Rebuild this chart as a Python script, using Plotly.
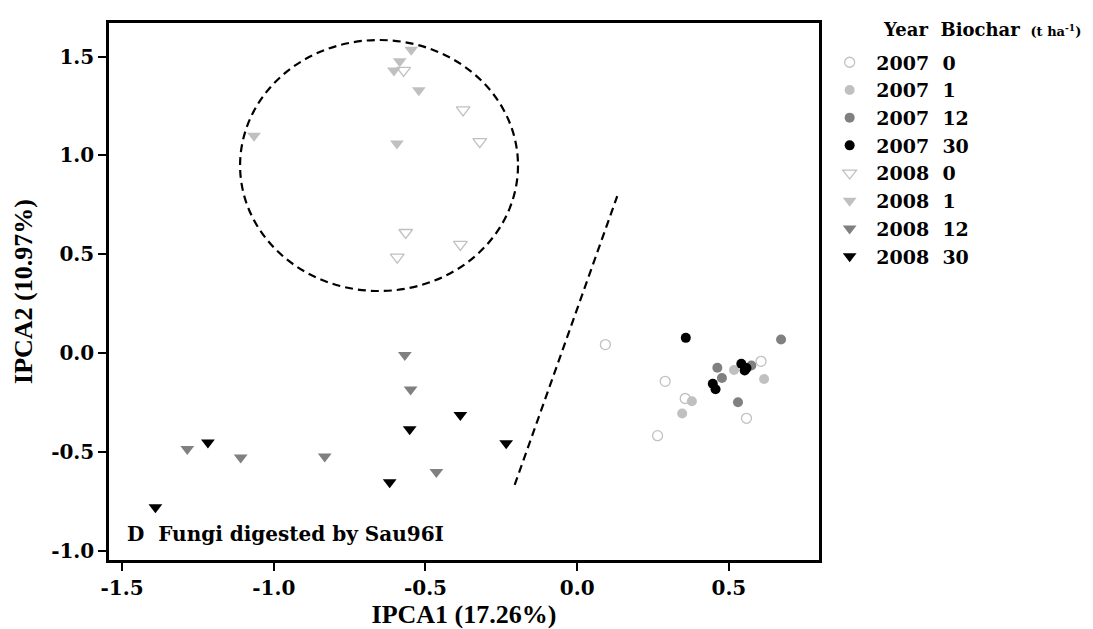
import plotly.graph_objects as go

# ---- data (IPCA scores) ----
c07_0_x = [0.093, 0.290, 0.356, 0.265, 0.606, 0.558]
c07_0_y = [0.043, -0.143, -0.230, -0.418, -0.042, -0.330]
c07_1_x = [0.517, 0.616, 0.378, 0.346]
c07_1_y = [-0.086, -0.131, -0.244, -0.306]
c07_12_x = [0.672, 0.462, 0.477, 0.530, 0.574]
c07_12_y = [0.069, -0.074, -0.126, -0.249, -0.063]
c07_30_x = [0.358, 0.541, 0.552, 0.447, 0.456, 0.558]
c07_30_y = [0.077, -0.054, -0.088, -0.155, -0.183, -0.076]

t08_0_x = [-0.572, -0.376, -0.321, -0.565, -0.593, -0.385]
t08_0_y = [1.430, 1.230, 1.070, 0.610, 0.485, 0.550]
t08_1_x = [-0.547, -0.585, -0.604, -0.522, -1.065, -0.594]
t08_1_y = [1.535, 1.477, 1.430, 1.330, 1.100, 1.060]
t08_12_x = [-0.568, -0.549, -1.285, -1.109, -0.832, -0.464]
t08_12_y = [-0.010, -0.184, -0.486, -0.528, -0.523, -0.602]
t08_30_x = [-1.217, -1.390, -0.552, -0.385, -0.234, -0.618]
t08_30_y = [-0.452, -0.780, -0.385, -0.313, -0.456, -0.654]

years = ["2007", "2007", "2007", "2007", "2008", "2008", "2008", "2008"]
biochar = ["0", "1", "12", "30", "0", "1", "12", "30"]

x_ticks = [-1.5, -1.0, -0.5, 0.0, 0.5]
y_ticks = [-1.0, -0.5, 0.0, 0.5, 1.0, 1.5]

ellipse_box = [-1.111, 0.314, -0.195, 1.584]   # x0, y0, x1, y1
divider = [-0.206, -0.667, 0.132, 0.794]        # x0, y0, x1, y1

panel_label = "D  Fungi digested by Sau96I"
x_title = "IPCA1 (17.26%)"
y_title = "IPCA2 (10.97%)"

# ---- styles ----
LIGHT = "#c0c0c0"
MID = "#808080"
BLACK = "#000000"
FONT = "DejaVu Serif"
TITLEFONT = "Liberation Serif"

series = [
    (c07_0_x, c07_0_y, "circle-open", LIGHT, 10),
    (c07_1_x, c07_1_y, "circle", LIGHT, 10),
    (c07_12_x, c07_12_y, "circle", MID, 10),
    (c07_30_x, c07_30_y, "circle", BLACK, 10),
    (t08_0_x, t08_0_y, "triangle-down-open", LIGHT, 12),
    (t08_1_x, t08_1_y, "triangle-down", LIGHT, 12),
    (t08_12_x, t08_12_y, "triangle-down", MID, 12),
    (t08_30_x, t08_30_y, "triangle-down", BLACK, 12),
]

fig = go.Figure()
for (xs, ys, sym, col, sz), yr, bc in zip(series, years, biochar):
    fig.add_trace(go.Scatter(
        x=xs, y=ys, mode="markers",
        name="\u00a0" + yr + "\u00a0\u00a0" + bc,
        marker=dict(symbol=sym, color=col, size=sz,
                    line=dict(color=col, width=1.3 if "open" in sym else 0)),
    ))

fig.add_shape(type="circle", xref="x", yref="y",
              x0=ellipse_box[0], y0=ellipse_box[1], x1=ellipse_box[2], y1=ellipse_box[3],
              line=dict(color="black", width=2.2, dash="8px,5px"))
fig.add_shape(type="line", xref="x", yref="y",
              x0=divider[0], y0=divider[1], x1=divider[2], y1=divider[3],
              line=dict(color="black", width=2.2, dash="8px,5px"))

fig.add_annotation(text=panel_label, xref="paper", yref="paper",
                   x=0.022, y=0.022, xanchor="left", yanchor="bottom", showarrow=False,
                   font=dict(family=FONT, size=20, color="black", weight="bold"))

fig.add_annotation(text="Year\u00a0\u00a0Biochar\u00a0<span style='font-size:13px'>\u00a0(t ha<sup>-1</sup>)</span>",
                   xref="paper", yref="paper", x=1.0873, y=0.9875,
                   xanchor="left", yanchor="middle", showarrow=False,
                   font=dict(family=FONT, size=18, color="black", weight="bold"))

axis_common = dict(showgrid=False, zeroline=False, showline=True, linecolor="black",
                   linewidth=2.5, mirror=True, ticks="outside", ticklen=8, tickwidth=2,
                   tickcolor="black",
                   tickfont=dict(family=FONT, size=20, color="black", weight="bold"))

fig.update_layout(
    width=1093, height=629, autosize=False,
    margin=dict(l=101, r=282, t=13, b=77),
    plot_bgcolor="white", paper_bgcolor="white",
    xaxis=dict(range=[-1.543, 0.797], tickvals=x_ticks,
               ticktext=[f"{v:.1f}" for v in x_ticks],
               title=dict(text=x_title, standoff=6,
                          font=dict(family=TITLEFONT, size=26, color="black", weight="bold")),
               **axis_common),
    yaxis=dict(range=[-1.047, 1.670], tickvals=y_ticks,
               ticktext=[f"{v:.1f}" for v in y_ticks],
               title=dict(text=y_title, standoff=12,
                          font=dict(family=TITLEFONT, size=26, color="black", weight="bold")),
               **axis_common),
    legend=dict(x=1.015, y=0.962, xanchor="left", yanchor="top",
                font=dict(family=FONT, size=19, color="black", weight="bold"),
                bgcolor="rgba(0,0,0,0)", borderwidth=0, tracegroupgap=0),
    showlegend=True,
)

fig.write_html("out.html")
